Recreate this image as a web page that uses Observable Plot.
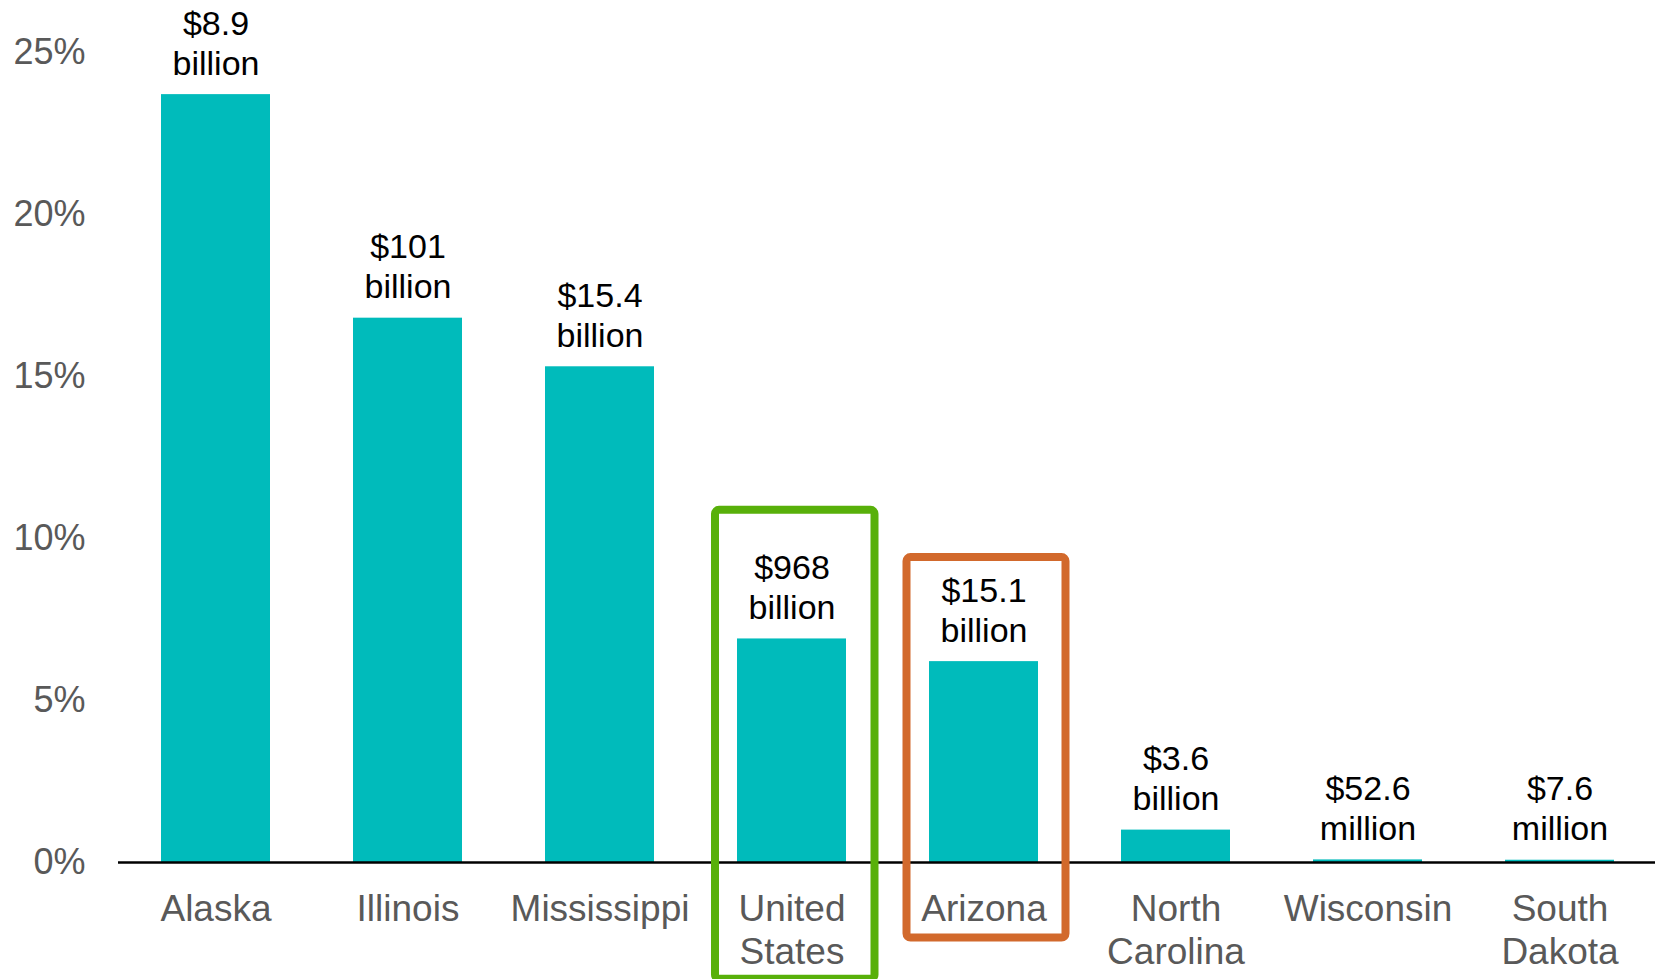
<!DOCTYPE html>
<html>
<head>
<meta charset="utf-8">
<script src="https://cdn.jsdelivr.net/npm/d3@7"></script>
<script src="https://cdn.jsdelivr.net/npm/@observablehq/plot@0.6"></script>
<style>
  html, body { margin: 0; padding: 0; background: #fff; overflow: hidden; }
</style>
</head>
<body>
<div id="chart"></div>
<script>
// Categories (x) and their axis labels
const states = ["Alaska", "Illinois", "Mississippi", "United States", "Arizona", "North Carolina", "Wisconsin", "South Dakota"];
const stateLabels = ["Alaska", "Illinois", "Mississippi", "United\nStates", "Arizona", "North\nCarolina", "Wisconsin", "South\nDakota"];
// Share values (%)
const shares = [23.7, 16.8, 15.3, 6.9, 6.2, 1.0, 0.08, 0.07];
// Dollar amount labels
const amounts = ["$8.9\nbillion", "$101\nbillion", "$15.4\nbillion", "$968\nbillion", "$15.1\nbillion", "$3.6\nbillion", "$52.6\nmillion", "$7.6\nmillion"];
// Y tick values
const yTicks = [0, 5, 10, 15, 20, 25];
// Highlighted categories (annotation boxes)
const usHighlight = ["United States"];
const azHighlight = ["Arizona"];

const data = states.map((s, i) => ({state: s, share: shares[i], amount: amounts[i]}));

const font = "'Liberation Sans', Arial, Helvetica, sans-serif";

const chart = Plot.plot({
  width: 1655,
  height: 979,
  marginTop: 52,
  marginBottom: 117,
  marginLeft: 118,
  marginRight: 0,
  style: {fontFamily: font, background: "#fff", overflow: "visible"},
  x: {domain: states, range: [116, 1659], paddingInner: 0.432, paddingOuter: 0.216, align: 0.5},
  y: {domain: [0, 25]},
  marks: [
    Plot.barY(data, {x: "state", y: "share", fill: "#00BBBB"}),
    Plot.ruleY([0], {stroke: "#000", strokeWidth: 2.5}),
    Plot.barY(usHighlight, {x: d => d, y1: -3.6, y2: 10.87, fill: "none", stroke: "#58B00A", strokeWidth: 8, rx: 4, insetLeft: -22, insetRight: -28.5}),
    Plot.barY(azHighlight, {x: d => d, y1: -2.33, y2: 9.41, fill: "none", stroke: "#D2692C", strokeWidth: 8, rx: 4, insetLeft: -22.5, insetRight: -27.5}),
    Plot.text(data, {x: "state", y: "share", text: "amount", lineAnchor: "bottom", dy: -20, fontSize: 34, lineHeight: 1.17, fill: "#000"}),
    Plot.axisY({ticks: yTicks, tickFormat: d => d + "%", tickSize: 0, tickPadding: 33, fontSize: 36, fill: "#595959", label: null}),
    Plot.axisX({tickSize: 0, tickPadding: 29, fontSize: 37, lineHeight: 1.14, fill: "#595959", label: null,
      tickFormat: d => stateLabels[states.indexOf(d)]})
  ]
});

document.getElementById("chart").appendChild(chart);
</script>
</body>
</html>
